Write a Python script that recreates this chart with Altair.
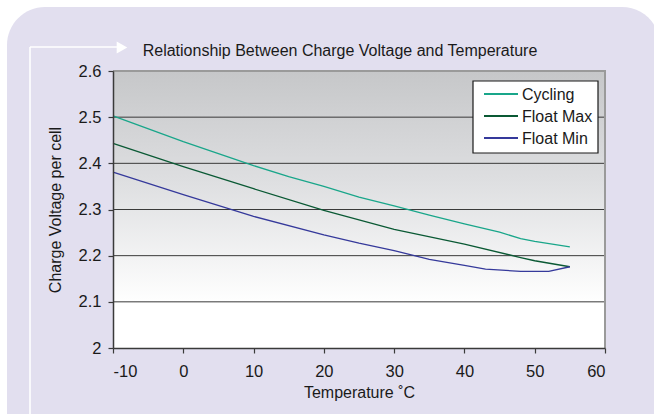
import altair as alt
import pandas as pd

# ---- data ----
temps_cycling = [-10, 0, 10, 15, 20, 25, 30, 35, 40, 45, 48, 50, 55]
cycling = [2.503, 2.447, 2.395, 2.371, 2.350, 2.327, 2.308, 2.288, 2.269, 2.251, 2.237, 2.231, 2.219]

temps_fmax = [-10, 0, 10, 20, 30, 40, 48, 50, 55]
float_max = [2.443, 2.393, 2.345, 2.298, 2.257, 2.225, 2.196, 2.189, 2.176]

temps_fmin = [-10, 0, 10, 20, 25, 30, 35, 40, 43, 48, 52, 55]
float_min = [2.381, 2.332, 2.285, 2.245, 2.227, 2.211, 2.192, 2.179, 2.171, 2.166, 2.166, 2.176]

series_names = ["Cycling", "Float Max", "Float Min"]
series_colors = ["#19A68A", "#0A5934", "#35399B"]

x_ticks = [-10, 0, 10, 20, 30, 40, 50, 60]
y_ticks = [2.0, 2.1, 2.2, 2.3, 2.4, 2.5, 2.6]
grid_values = [2.1, 2.2, 2.3, 2.4, 2.5]

title_text = "Relationship Between Charge Voltage and Temperature"
x_title = "Temperature ˚C"
y_title = "Charge Voltage per cell"

rows = []
for name, ts, vs in [("Cycling", temps_cycling, cycling),
                     ("Float Max", temps_fmax, float_max),
                     ("Float Min", temps_fmin, float_min)]:
    for i, (t, v) in enumerate(zip(ts, vs)):
        rows.append({"series": name, "temp": t, "volt": v, "order": i})
df = pd.DataFrame(rows)

W, H = 492, 277
PL, PT = 113, 71
FONT = "Liberation Sans"
TXT = "#1a1a1a"

one = pd.DataFrame({"a": [0]})

# lavender rounded panel (decoration, outside plot)
panel = alt.Chart(one).mark_rect(color="#E2DFEF", cornerRadius=38).encode(
    x=alt.value(7 - PL), x2=alt.value(660 - PL),
    y=alt.value(7 - PT), y2=alt.value(470 - PT),
)

# white decorative bracket lines and arrow
vline = alt.Chart(one).mark_rule(color="white", strokeWidth=1.6).encode(
    x=alt.value(30 - PL), y=alt.value(47 - PT), y2=alt.value(414 - PT)
)
hline = alt.Chart(one).mark_rule(color="white", strokeWidth=1.6).encode(
    x=alt.value(30 - PL), x2=alt.value(118 - PL), y=alt.value(47 - PT)
)
arrow = alt.Chart(one).mark_point(shape="triangle-right", filled=True, color="white",
                                  opacity=1, size=150).encode(
    x=alt.value(122 - PL), y=alt.value(47.5 - PT)
)

title = alt.Chart(one).mark_text(text=title_text, font=FONT, fontSize=16,
                                 color=TXT, align="center", baseline="alphabetic").encode(
    x=alt.value(340 - PL), y=alt.value(56 - PT)
)

# plot area gradient
grad = alt.Chart(one).mark_rect(
    color=alt.Gradient(
        gradient="linear", x1=0, y1=0, x2=0, y2=1,
        stops=[alt.GradientStop(color="#C6C7C9", offset=0),
               alt.GradientStop(color="#DEDFE1", offset=0.4),
               alt.GradientStop(color="#FFFFFF", offset=0.84)]
    )
).encode(x=alt.value(0), x2=alt.value(W), y=alt.value(0), y2=alt.value(H))

xscale = alt.Scale(domain=[-10, 60], nice=False)
yscale = alt.Scale(domain=[2.0, 2.6], nice=False, zero=False)

y_axis = alt.Axis(values=y_ticks, format="~g", title=y_title, grid=False,
                  tickSize=5, labelPadding=7, titlePadding=15, zindex=1)
x_axis = alt.Axis(values=x_ticks, title=x_title, grid=False, zindex=1,
                  labelExpr="datum.value + ''",
                  tickSize=5, labelPadding=10, titlePadding=5)

grid = alt.Chart(pd.DataFrame({"v": grid_values})).mark_rule(
    color="#3a3a3a", strokeWidth=1).encode(
    y=alt.Y("v:Q", scale=yscale, axis=y_axis))

# top / right border
border_top = alt.Chart(one).mark_rule(color="#9A9A9A", strokeWidth=2).encode(
    x=alt.value(0), x2=alt.value(W + 1), y=alt.value(0))
border_right = alt.Chart(one).mark_rule(color="#9A9A9A", strokeWidth=2).encode(
    x=alt.value(W), y=alt.value(0), y2=alt.value(H))

lines = alt.Chart(df).mark_line(strokeWidth=1.3).encode(
    x=alt.X("temp:Q", scale=xscale, axis=x_axis),
    y=alt.Y("volt:Q", scale=yscale, axis=y_axis),
    color=alt.Color("series:N",
                    scale=alt.Scale(domain=series_names, range=series_colors),
                    legend=None),
    order="order:Q",
)

# manual legend box
leg_box = alt.Chart(one).mark_rect(fill="white", stroke="#1a1a1a", strokeWidth=1.2).encode(
    x=alt.value(473 - PL), x2=alt.value(598 - PL),
    y=alt.value(81 - PT), y2=alt.value(153 - PT))
legend_layers = [leg_box]
for i, (name, col) in enumerate(zip(series_names, series_colors)):
    yy = 94 + 22 * i - PT
    legend_layers.append(alt.Chart(one).mark_rule(color=col, strokeWidth=2.2).encode(
        x=alt.value(484 - PL), x2=alt.value(518 - PL), y=alt.value(yy)))
    legend_layers.append(alt.Chart(one).mark_text(text=name, font=FONT, fontSize=16,
                                                  color=TXT, align="left",
                                                  baseline="middle").encode(
        x=alt.value(522 - PL), y=alt.value(yy + 1)))

chart = alt.layer(panel, vline, hline, arrow, title, grad, grid, border_top, border_right,
                  lines, *legend_layers).properties(
    width=W, height=H,
    padding={"left": PL, "top": PT, "right": 654 - PL - W, "bottom": 414 - PT - H},
    autosize=alt.AutoSizeParams(type="none"),
    background="white",
).configure_view(stroke=None).configure_axis(
    labelFont=FONT, titleFont=FONT, labelFontSize=16.5, titleFontSize=16,
    labelColor=TXT, titleColor=TXT, titleFontWeight="normal",
    domainColor="#3a3a3a", tickColor="#3a3a3a", domainWidth=1.5, tickWidth=1.2,
)

chart.save("out.html", embed_options={"renderer": "svg", "actions": False})
